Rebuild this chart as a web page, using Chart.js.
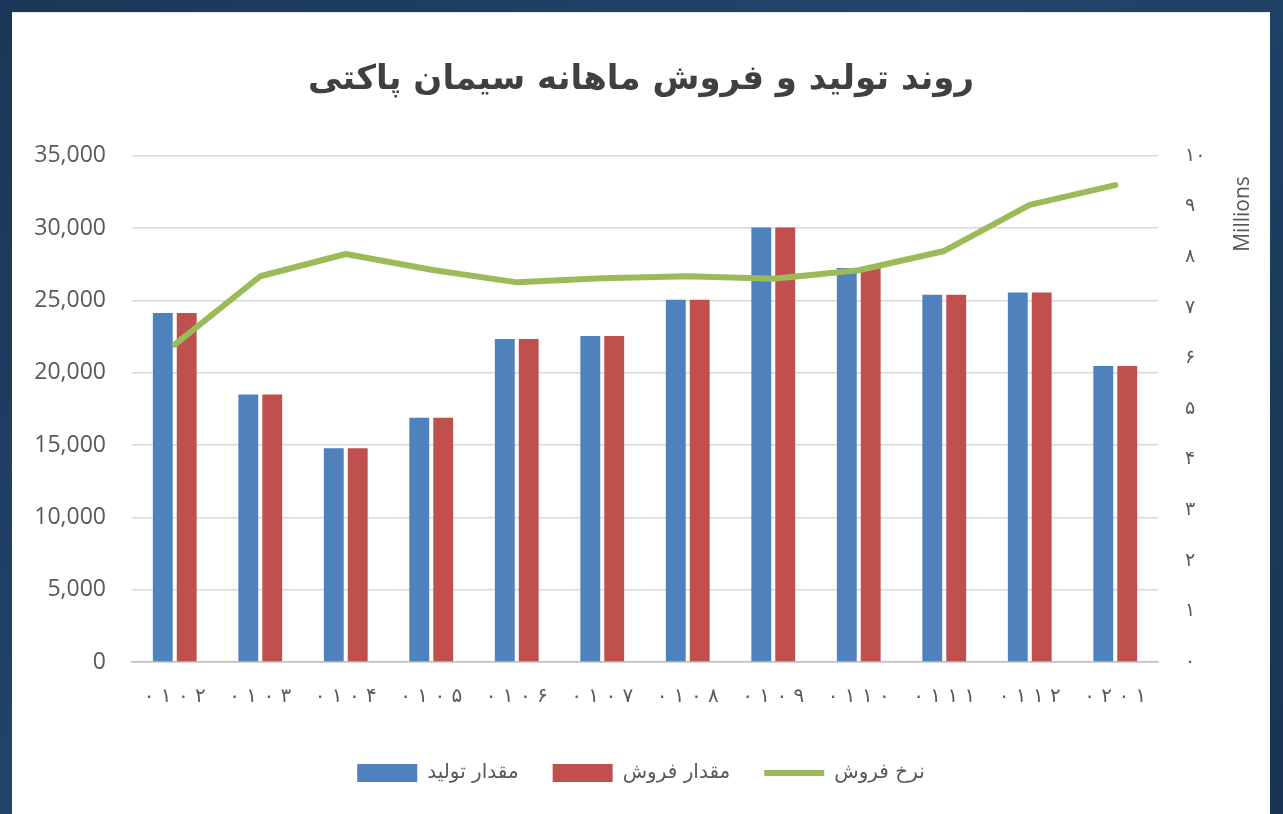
<!DOCTYPE html>
<html>
<head>
<meta charset="utf-8">
<script src="https://cdn.jsdelivr.net/npm/chart.js@4"></script>
<style>
  html, body { margin: 0; padding: 0; }
  body {
    width: 1283px; height: 814px; overflow: hidden;
    background: linear-gradient(135deg, #1a3757 0%, #21466c 45%, #183452 100%);
  }
  #panel {
    position: absolute; left: 12px; top: 12px; width: 1258px; height: 802px;
    background: #fff; border-top: 1px solid #dfe6ee;
  }
</style>
</head>
<body>
<div id="panel"><canvas id="cementChart"></canvas></div>
<script>
// months (Persian year/month)
const months = ["۰۱۰۲", "۰۱۰۳", "۰۱۰۴", "۰۱۰۵", "۰۱۰۶", "۰۱۰۷", "۰۱۰۸", "۰۱۰۹", "۰۱۱۰", "۰۱۱۱", "۰۱۱۲", "۰۲۰۱"];
const production = [24130, 18500, 14780, 16890, 22340, 22540, 25040, 30050, 27250, 25390, 25540, 20460];
const sales = [24130, 18500, 14780, 16890, 22340, 22540, 25040, 30050, 27250, 25390, 25540, 20460];
const salesRate = [6270000, 7620000, 8060000, 7750000, 7500000, 7580000, 7620000, 7570000, 7740000, 8120000, 9030000, 9420000];

const faDigits = "۰۱۲۳۴۵۶۷۸۹";
const toFa = (v) => String(v).replace(/\d/g, (d) => faDigits[d]);

// "Millions" caption of right axis, reads bottom to top
const millionsLabel = {
  id: "millionsLabel",
  afterDraw(chart) {
    const ctx = chart.ctx;
    ctx.save();
    ctx.translate(1231, 201);
    ctx.rotate(-Math.PI / 2);
    ctx.font = "21px 'Open Sans'";
    ctx.fillStyle = "#595959";
    ctx.textAlign = "center";
    ctx.textBaseline = "middle";
    ctx.fillText("Millions", 0, 0);
    ctx.restore();
  },
};

const ctx = document.getElementById("cementChart");

const chart = new Chart(ctx, {
  type: "bar",
  data: {
    labels: months,
    datasets: [
      {
        label: "مقدار تولید",
        data: production,
        backgroundColor: "#4f81bd",
        borderWidth: 0,
        pointStyle: "rect",
        categoryPercentage: 0.56,
        barPercentage: 0.83,
        yAxisID: "y",
        order: 1,
      },
      {
        label: "مقدار فروش",
        data: sales,
        backgroundColor: "#c0504d",
        borderWidth: 0,
        pointStyle: "rect",
        categoryPercentage: 0.56,
        barPercentage: 0.83,
        yAxisID: "y",
        order: 1,
      },
      {
        type: "line",
        label: "نرخ فروش",
        data: salesRate,
        borderColor: "#9bbb59",
        backgroundColor: "#9bbb59",
        borderWidth: 6,
        borderJoinStyle: "round",
        borderCapStyle: "round",
        pointRadius: 0,
        pointStyle: "line",
        tension: 0,
        yAxisID: "y1",
        order: 0,
      },
    ],
  },
  options: {
    responsive: true,
    maintainAspectRatio: false,
    animation: false,
    layout: { padding: { left: 0, right: 0, top: 0, bottom: 22 } },
    plugins: {
      title: {
        display: true,
        text: "روند تولید و فروش ماهانه سیمان پاکتی",
        color: "#404040",
        font: { family: "DejaVu Sans", size: 34, weight: "bold" },
        padding: { top: 47, bottom: 55 },
      },
      legend: {
        display: true,
        position: "bottom",
        labels: {
          color: "#595959",
          font: { family: "DejaVu Sans", size: 20 },
          usePointStyle: true,
          pointStyleWidth: 60,
          boxHeight: 18,
          padding: 34,
          sort: (a, b) => a.datasetIndex - b.datasetIndex,
        },
      },
      tooltip: { enabled: false },
    },
    scales: {
      x: {
        grid: { display: false, drawTicks: false },
        border: { display: true, color: "#bfbfbf", width: 1.5 },
        ticks: {
          color: "#595959",
          font: { family: "DejaVu Sans", size: 20 },
          padding: 23,
          maxRotation: 0,
          callback: function (v) {
            return this.getLabelForValue(v).split("").join(" ");
          },
        },
        afterFit: (scale) => { scale.height = 67; },
      },
      y: {
        position: "left",
        min: 0,
        max: 35000,
        grid: { color: "#d9d9d9", lineWidth: 1.5, drawTicks: false },
        border: { display: false },
        ticks: {
          stepSize: 5000,
          color: "#595959",
          font: { family: "Open Sans", size: 23 },
          padding: 26,
          callback: (v) => v.toLocaleString("en-US"),
        },
        afterFit: (scale) => { scale.width = 120; },
      },
      y1: {
        position: "right",
        min: 0,
        max: 10000000,
        grid: { display: false, drawTicks: false },
        border: { display: false },
        ticks: {
          stepSize: 1000000,
          color: "#595959",
          font: { family: "DejaVu Sans", size: 19 },
          padding: 27,
          callback: (v) => toFa(v / 1000000),
        },
        afterFit: (scale) => { scale.width = 112; },
      },
    },
  },
  plugins: [millionsLabel],
});
</script>
</body>
</html>
